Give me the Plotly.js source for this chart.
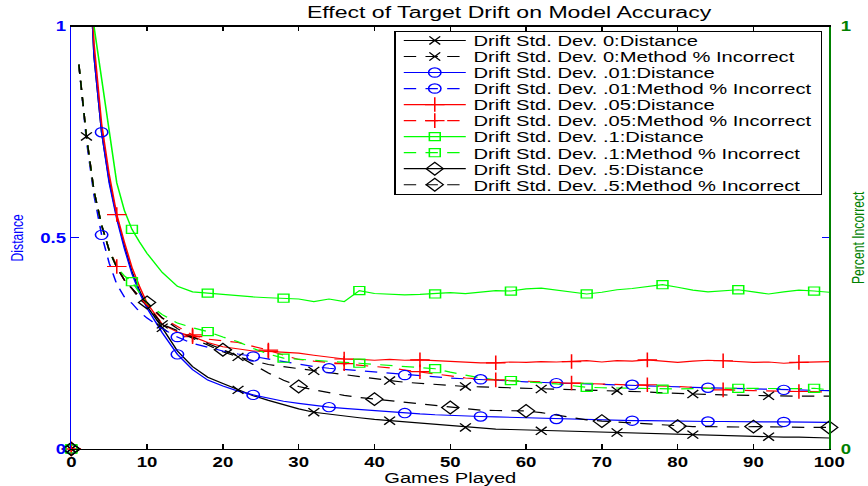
<!DOCTYPE html>
<html><head><meta charset="utf-8">
<script src="https://cdn.plot.ly/plotly-3.0.1.min.js"></script>
<style>
html,body{margin:0;padding:0;background:#fff;overflow:hidden;}
#wrap{width:868px;height:486px;overflow:hidden;position:relative;background:#fff;}
#plot{width:560px;height:420px;transform:scale(1.55,1.157143);transform-origin:0 0;}
</style></head><body><div id="wrap"><div id="plot"></div></div>
<script>
// ---------- data ----------
const GAMES = [0,1,2,3,4,5,6,7,8,9,10,12,14,16,18,20,22,24,26,28,30,32,34,36,38,40,42,44,46,48,50,
  52,54,56,58,60,62,64,66,68,70,72,74,76,78,80,82,84,86,88,90,92,94,96,98,100];

const DIST_0 = [0,2.0,1.3,0.93,0.75,0.635,0.55,0.48,0.42,0.375,0.338,
  0.287,0.232,0.195,0.17,0.155,0.14,0.126,0.115,0.104,0.095,
  0.087,0.082,0.078,0.074,0.070,0.067,0.064,0.061,0.057,0.054,
  0.051,0.049,0.047,0.046,0.045,0.043,0.042,0.041,0.040,0.040,
  0.039,0.038,0.037,0.036,0.035,0.034,0.033,0.032,0.031,0.030,
  0.029,0.028,0.028,0.027,0.026];
const METHOD_0 = [0,0.91,0.74,0.61,0.53,0.47,0.43,0.40,0.38,0.355,0.34,
  0.295,0.28,0.262,0.245,0.23,0.218,0.208,0.2,0.195,0.19,
  0.185,0.18,0.175,0.17,0.166,0.162,0.158,0.155,0.152,0.15,
  0.148,0.147,0.146,0.144,0.143,0.142,0.141,0.14,0.139,0.139,
  0.138,0.137,0.135,0.133,0.131,0.13,0.129,0.128,0.127,0.126,
  0.126,0.125,0.125,0.125,0.125];
const DIST_01 = [0,2.0,1.3,0.93,0.75,0.63,0.545,0.475,0.415,0.37,0.333,
  0.275,0.224,0.188,0.163,0.149,0.137,0.128,0.12,0.113,0.108,
  0.103,0.099,0.096,0.093,0.090,0.087,0.085,0.083,0.081,0.079,
  0.078,0.077,0.076,0.075,0.074,0.072,0.071,0.07,0.069,0.068,
  0.068,0.067,0.067,0.066,0.066,0.065,0.065,0.065,0.064,0.064,
  0.064,0.064,0.063,0.063,0.063];
const METHOD_01 = [0,0.91,0.73,0.6,0.507,0.44,0.39,0.36,0.345,0.325,0.31,
  0.285,0.265,0.25,0.24,0.232,0.225,0.219,0.212,0.205,0.2,
  0.195,0.191,0.188,0.185,0.182,0.178,0.175,0.173,0.17,0.168,
  0.166,0.165,0.163,0.161,0.159,0.157,0.156,0.155,0.154,0.153,
  0.152,0.152,0.151,0.149,0.147,0.146,0.145,0.144,0.143,0.142,
  0.141,0.14,0.139,0.138,0.138];
const DIST_05 = [0,2.0,1.35,0.96,0.77,0.65,0.555,0.49,0.43,0.385,0.345,
  0.295,0.277,0.266,0.252,0.242,0.236,0.232,0.231,0.229,0.227,
  0.222,0.217,0.213,0.212,0.210,0.212,0.210,0.211,0.209,0.207,
  0.206,0.204,0.204,0.206,0.205,0.207,0.206,0.207,0.209,0.206,
  0.209,0.208,0.211,0.208,0.205,0.208,0.210,0.209,0.206,0.205,
  0.206,0.203,0.205,0.207,0.207];
const METHOD_05 = [0,0.91,0.74,0.61,0.53,0.47,0.432,0.40,0.38,0.36,0.34,
  0.31,0.29,0.27,0.26,0.255,0.252,0.243,0.234,0.222,0.212,
  0.208,0.205,0.202,0.199,0.196,0.192,0.187,0.183,0.178,0.173,
  0.168,0.165,0.1635,0.162,0.16,0.158,0.157,0.156,0.155,0.154,
  0.153,0.152,0.152,0.15,0.148,0.146,0.143,0.14,0.139,0.138,
  0.137,0.136,0.136,0.135,0.135];
const DIST_1 = [0,2.2,1.5,1.0,0.87,0.75,0.63,0.565,0.52,0.49,0.463,
  0.418,0.385,0.372,0.369,0.365,0.361,0.36,0.358,0.357,0.355,
  0.349,0.355,0.349,0.375,0.368,0.366,0.365,0.366,0.367,0.37,
  0.368,0.372,0.375,0.374,0.379,0.381,0.376,0.37,0.367,0.371,
  0.377,0.38,0.384,0.389,0.383,0.376,0.372,0.375,0.377,0.372,
  0.367,0.372,0.376,0.374,0.371];
const METHOD_1 = [0,0.91,0.74,0.61,0.53,0.47,0.43,0.41,0.396,0.37,0.345,
  0.318,0.298,0.287,0.278,0.265,0.254,0.238,0.225,0.215,0.212,
  0.21,0.207,0.205,0.203,0.2,0.198,0.195,0.192,0.19,0.182,
  0.175,0.168,0.164,0.162,0.16,0.157,0.154,0.15,0.146,0.145,
  0.144,0.143,0.142,0.1415,0.142,0.143,0.144,0.144,0.1437,0.143,
  0.143,0.143,0.143,0.1437,0.14];
const DIST_5 = [0,3.0,2.6,2.3,2.1,2.0,1.9,1.85,1.8,1.75,1.7,
  1.65,1.6,1.58,1.56,1.55,1.54,1.53,1.52,1.51,1.5,
  1.5,1.49,1.49,1.48,1.48,1.47,1.47,1.46,1.46,1.45,
  1.45,1.45,1.44,1.44,1.44,1.43,1.43,1.43,1.42,1.42,
  1.42,1.41,1.41,1.41,1.4,1.4,1.4,1.4,1.39,1.39,
  1.39,1.39,1.38,1.38,1.38];
const METHOD_5 = [0,0.91,0.74,0.61,0.53,0.47,0.43,0.4,0.38,0.36,0.347,
  0.31,0.285,0.265,0.25,0.235,0.22,0.2,0.18,0.163,0.148,
  0.14,0.133,0.127,0.122,0.118,0.115,0.112,0.108,0.103,0.098,
  0.094,0.092,0.091,0.091,0.09,0.086,0.08,0.074,0.069,0.066,
  0.064,0.062,0.059,0.056,0.054,0.053,0.053,0.052,0.052,0.053,
  0.052,0.052,0.052,0.051,0.051];

const SERIES_NAMES = [
  'Drift Std. Dev. 0:Distance','Drift Std. Dev. 0:Method % Incorrect',
  'Drift Std. Dev. .01:Distance','Drift Std. Dev. .01:Method % Incorrect',
  'Drift Std. Dev. .05:Distance','Drift Std. Dev. .05:Method % Incorrect',
  'Drift Std. Dev. .1:Distance','Drift Std. Dev. .1:Method % Incorrect',
  'Drift Std. Dev. .5:Distance','Drift Std. Dev. .5:Method % Incorrect'];
const SERIES_VALUES = [DIST_0,METHOD_0,DIST_01,METHOD_01,DIST_05,METHOD_05,DIST_1,METHOD_1,DIST_5,METHOD_5];
const X_TICKS = [0,10,20,30,40,50,60,70,80,90,100];
const Y_TICKS = [0,0.5,1];
const Y_TICK_TEXT = ['0','0.5','1'];
const Y2_TICKS = [0,1];
const Y2_TICK_TEXT = ['0','1'];

// ---------- styles ----------
const FONT = 'Liberation Sans, Arial, Helvetica, sans-serif';
const STYLE = [
  {color:'#000000', sym:'x-thin-open', size:7, every:2},
  {color:'#0000ff', sym:'circle-open', size:8, every:4},
  {color:'#ff0000', sym:'cross-thin-open', size:9, every:6},
  {color:'#00ff00', sym:'square-open', size:7, every:8},
  {color:'#000000', sym:'diamond-open', size:8.5, every:0}
];
const DASH = '8px,6px';

const lineTraces = [], markerTraces = [], legendTraces = [];
SERIES_VALUES.forEach((vals, k) => {
  const st = STYLE[Math.floor(k/2)];
  const isMethod = (k % 2) === 1;
  const yaxis = isMethod ? 'y2' : 'y';
  const line = {color: st.color, width: 1, dash: isMethod ? DASH : 'solid'};
  const marker = {symbol: st.sym, size: st.size, color: st.color, line:{color: st.color, width:1}};
  lineTraces.push({
    type:'scatter', mode:'lines', x: GAMES.slice(1), y: vals.slice(1), yaxis,
    line, showlegend:false, hoverinfo:'skip', cliponaxis:true
  });
  const mx = [], my = [];
  GAMES.forEach((g, i) => {
    const marked = (i === 0) || (g % 10 === st.every);
    if (marked && vals[i] >= 0 && vals[i] <= 1) { mx.push(g); my.push(vals[i]); }
  });
  markerTraces.push({
    type:'scatter', mode:'markers', x: mx, y: my, yaxis, marker,
    showlegend:false, hoverinfo:'skip', cliponaxis:false
  });
  // legend entry (line + marker sample); the series itself is drawn by the two traces above
  legendTraces.push({
    type:'scatter', mode:'lines+markers', x: GAMES.slice(1), y: vals.slice(1), yaxis,
    name: SERIES_NAMES[k], line, marker, showlegend:true, visible:'legendonly'
  });
});

const layout = {
  width:560, height:420,
  margin:{l:45.8, r:25.2, t:23.3, b:32, pad:0},
  paper_bgcolor:'#ffffff', plot_bgcolor:'#ffffff',
  font:{family:FONT, size:12, color:'#000'},
  title:{text:'Effect of Target Drift on Model Accuracy', font:{family:FONT, size:14.9, color:'#000'},
    xref:'container', x:0.5865, xanchor:'center', yref:'container', y:0.975, yanchor:'middle'},
  showlegend:true,
  legend:{x:0.9908, xanchor:'right', y:0.99, yanchor:'top', bgcolor:'#ffffff', bordercolor:'#000000',
    borderwidth:1, font:{family:FONT, size:13, color:'#000'}, traceorder:'normal', itemwidth:40,
    tracegroupgap:0},
  xaxis:{range:[0,100], tickvals:X_TICKS, ticks:'inside', ticklen:4, tickcolor:'#000', showline:true,
    linecolor:'#000', linewidth:1, mirror:'ticks', showgrid:false, zeroline:false,
    tickfont:{family:FONT, size:12, weight:'bold', color:'#000'},
    title:{text:'Games Played', font:{family:FONT, size:13, color:'#000'}, standoff:0}},
  yaxis:{range:[0,1], tickvals:Y_TICKS, ticktext:Y_TICK_TEXT, ticks:'inside', ticklen:5, tickcolor:'#0000ff',
    showline:true, linecolor:'#0000ff', linewidth:1, mirror:'ticks', showgrid:false, zeroline:false,
    tickfont:{family:FONT, size:12, weight:'bold', color:'#0000ff'},
    title:{text:'Distance', font:{family:FONT, size:10.5, color:'#0000ff'}, standoff:8}},
  yaxis2:{range:[0,1], overlaying:'y', side:'right', tickvals:Y2_TICKS, ticktext:Y2_TICK_TEXT, ticks:'inside',
    ticklen:5, tickcolor:'#008000', showline:true, linecolor:'#008000', linewidth:1, showgrid:false,
    zeroline:false, ticklabelstandoff:4, tickfont:{family:FONT, size:12, weight:'bold', color:'#008000'},
    title:{text:'Percent Incorrect', font:{family:FONT, size:10.5, color:'#008000'}, standoff:1}}
};

const gd = document.getElementById('plot');
const LEGEND_STEP = 13.85;   // row pitch of the legend (px, before scaling)
const LEGEND_LIFT = 4.6;     // move the rows up towards the box top
const LEGEND_BOX_H = 141;    // legend box height
function fixLegend() {
  const leg = gd.querySelector('g.legend');
  if (!leg) return;
  const items = Array.from(leg.querySelectorAll('g.traces'));
  items.forEach(g => { g.style.opacity = '1'; });
  if (items.length < 2) return;
  const pos = items.map(g => {
    const m = /translate\(\s*([-\d.e]+)[ ,]+([-\d.e]+)/.exec(g.getAttribute('transform') || '');
    return m ? [parseFloat(m[1]), parseFloat(m[2])] : [0, 0];
  });
  const step0 = pos[1][1] - pos[0][1];
  const diff = step0 - LEGEND_STEP;
  items.forEach((g, i) => g.setAttribute('transform',
    'translate(' + pos[i][0] + ',' + (pos[0][1] - diff / 2 - LEGEND_LIFT + i * LEGEND_STEP) + ')'));
  const bg = leg.querySelector('rect.bg');
  if (bg) bg.setAttribute('height', LEGEND_BOX_H);
}
Plotly.newPlot(gd, lineTraces.concat(markerTraces, legendTraces), layout,
  {staticPlot:true, displayModeBar:false}).then(fixLegend);
</script></body></html>
